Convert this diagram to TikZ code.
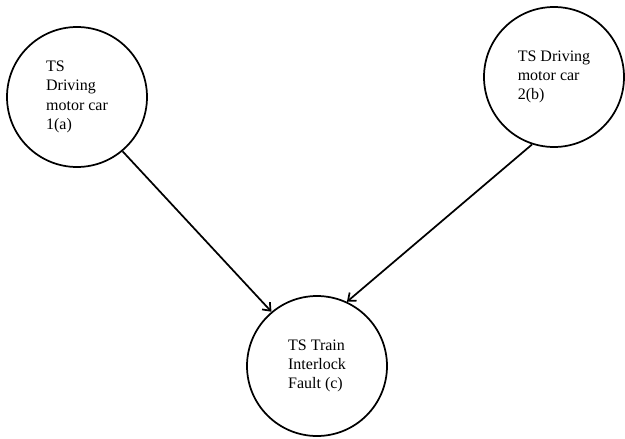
\documentclass[tikz,border=0pt]{standalone}
\usepackage{fontspec}
\setmainfont{Liberation Serif}
\usetikzlibrary{arrows.meta}
\tikzset{
    >={Straight Barb[length=5pt,width=8pt]}, % open arrow heads
    event/.style={circle, draw, minimum size=105pt, inner sep=0pt, align=left, font=\fontsize{12}{14.5}\selectfont}, % one circle per event
    }

\begin{document}
\begin{tikzpicture}[x=0.75pt, y=-0.75pt, line width=1.3pt]
        \useasboundingbox (0,0) rectangle (625,439);

        \node[event] (s1) at (77,97) {TS\\Driving\\motor car\\1(a)};
        \node[event] (s2) at (554,77) {TS Driving\\motor car\\2(b)};
        \node[event] (s3) at (317,366) {TS Train\\Interlock\\Fault (c)};

        \draw[->] (s1.310) -- (s3.130);
        \draw[->] (s2.252) -- (s3.65);
    \end{tikzpicture}
\end{document}
